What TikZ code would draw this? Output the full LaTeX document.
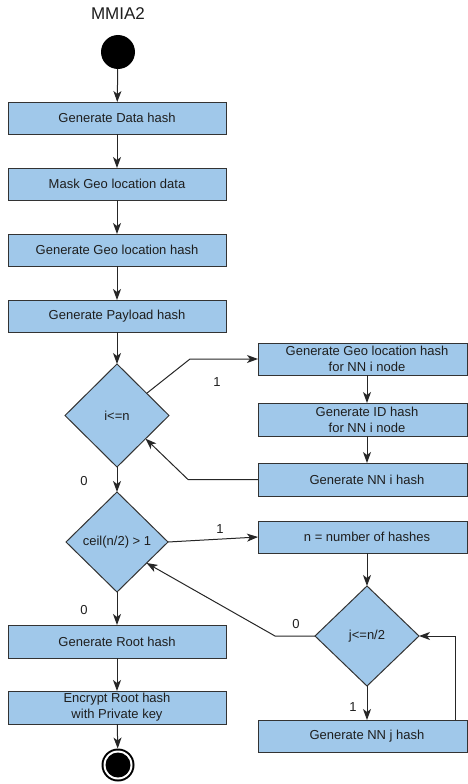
\documentclass[tikz,border=0pt]{standalone}
\usepackage{fontspec}
\setmainfont{Liberation Sans}
\usetikzlibrary{arrows.meta,shapes.geometric,calc}
\definecolor{boxfill}{RGB}{160,200,234}
\definecolor{boxline}{RGB}{51,51,51}
\definecolor{txt}{RGB}{30,30,30}
\tikzset{
  every node/.style={font=\fontsize{13}{16}\selectfont, text=txt},
  stepbox/.style={draw=boxline, fill=boxfill, line width=1pt, minimum width=218pt,
    minimum height=32pt, inner sep=0pt, outer sep=0pt, align=center},
  rbox/.style={stepbox, minimum width=209pt},
  rtext/.style={align=center, inner sep=0pt},
  decide/.style={draw=boxline, fill=boxfill, line width=1pt, shape=diamond,
    inner sep=0pt, outer sep=0pt, align=center},
  flow/.style={draw=black!85, line width=1pt,
    -{Stealth[length=11pt,width=8pt,inset=3pt]}},
  lbl/.style={font=\fontsize{13}{16}\selectfont},
}
\begin{document}
\begin{tikzpicture}[x=1pt,y=-1pt]
\useasboundingbox (0,0) rectangle (468,784);

% title
\node[font=\fontsize{17}{20}\selectfont] (title) at (118,14) {MMIA2};

% start marker
\node[circle, fill=black, minimum size=34pt, inner sep=0pt, outer sep=0pt] (start) at (118,52) {};

% main column
\node[stepbox] (b1) at (117,118) {Generate Data hash};
\node[stepbox] (b2) at (117,184) {Mask Geo location data};
\node[stepbox] (b3) at (117,250) {Generate Geo location hash};
\node[stepbox] (b4) at (117,316) {Generate Payload hash};
\node[decide, minimum width=104pt, minimum height=103pt] (d1) at (117,415.5) {i<=n};
\node[decide, minimum width=102pt, minimum height=100pt] (d2) at (117,542) {ceil(n/2) > 1};
\node[stepbox, minimum height=33pt] (root) at (117,641.5) {Generate Root hash};
\node[stepbox, minimum height=33pt] (enc) at (117,707.5) {Encrypt Root hash\\with Private key};

% end marker
\node[circle, fill=black, minimum size=33pt, inner sep=0pt, outer sep=0pt] (end) at (118,765) {};
\fill[white] (end.center) circle (14.5pt);
\fill[black] (end.center) circle (12.5pt);

% right column: boxes, with their captions centred on x=367
\node[rbox] (g1) at (362.5,359) {};
\node[rtext] (g1t) at (367,359) {Generate Geo location hash\\for NN i node};
\node[rbox, minimum height=33pt] (g2) at (362.5,419.5) {};
\node[rtext] (g2t) at (367,419.5) {Generate ID hash\\for NN i node};
\node[rbox, minimum height=33pt] (g3) at (362.5,479.5) {};
\node[rtext] (g3t) at (367,479.5) {Generate NN i hash};
\node[rbox] (nb) at (362.5,537) {};
\node[rtext] (nbt) at (367,537) {n = number of hashes};
\node[decide, minimum width=104pt, minimum height=100pt] (d3) at (367,636) {j<=n/2};
\node[rbox] (jb) at (362.5,736) {};
\node[rtext] (jbt) at (367,736) {Generate NN j hash};

% main flow
\draw[flow] (start) -- (b1);
\draw[flow] (b1) -- (b2);
\draw[flow] (b2) -- (b3);
\draw[flow] (b3) -- (b4);
\draw[flow] (b4) -- (d1);
\draw[flow] (d1) -- (d2);
\draw[flow] (d2) -- (root);
\draw[flow] (root) -- (enc);
\draw[flow] (enc) -- (end);
\node[lbl] (l0a) at (84,481) {0};
\node[lbl] (l0b) at (84,610) {0};

% inner loop over i
\draw[flow] ($(d1.north)!0.57!(d1.east)$) -- (190,359) -- (g1.west);
\node[lbl] (l1a) at (217,382) {1};
\draw[flow] ([xshift=4.5pt]g1.south) -- ([xshift=4.5pt]g2.north);
\draw[flow] ([xshift=4.5pt]g2.south) -- ([xshift=4.5pt]g3.north);
\draw[flow] (g3.west) -- (188,479.5) -- ($(d1.south)!0.55!(d1.east)$);

% outer loop over j
\draw[flow] (d2.east) -- (nb.west);
\node[lbl] (l1b) at (220,529) {1};
\draw[flow] ([xshift=4.5pt]nb.south) -- (d3.north);
\draw[flow] (d3.west) -- (275,636) -- ($(d2.east)!0.42!(d2.south)$);
\node[lbl] (l0c) at (296,624) {0};
\draw[flow] (d3.south) -- ([xshift=4.5pt]jb.north);
\node[lbl] (l1c) at (353,707) {1};
\draw[flow] ([xshift=92.5pt]jb.north) |- (d3.east);
\end{tikzpicture}
\end{document}
